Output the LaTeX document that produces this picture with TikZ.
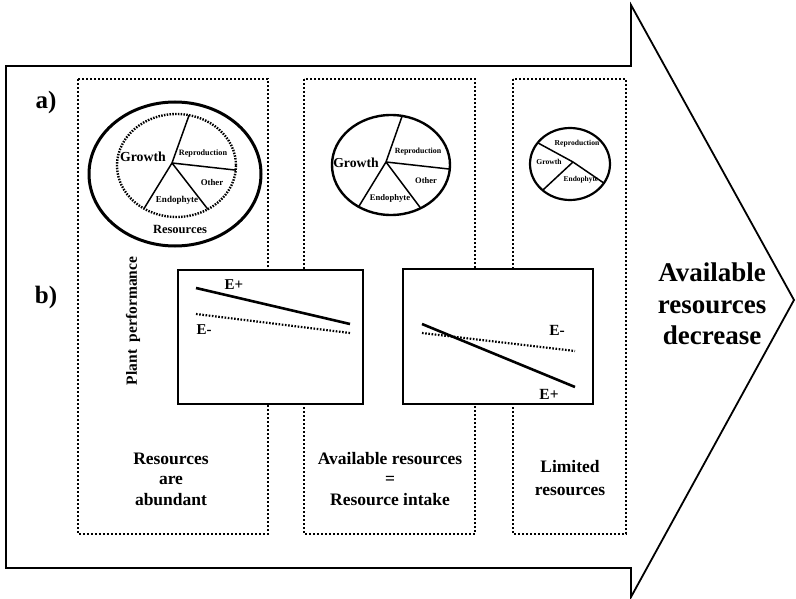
\documentclass[tikz,border=0pt]{standalone}
\usepackage{fontspec}
\setmainfont{Liberation Serif}
\begin{document}
\begin{tikzpicture}[x=1pt,y=-1pt,
  lbl/.style={font=\bfseries, inner sep=0pt, align=center},
  region/.style={line width=1.9pt, dash pattern=on 2pt off 2pt},
  bigarrow/.style={line width=1.8pt, line join=miter},
  plotbox/.style={line width=2pt, fill=white},
  eplus/.style={line width=2.6pt},
  eminus/.style={line width=2.2pt, dash pattern=on 1.6pt off 1.6pt},
  spoke/.style={line width=1.5pt},
  rim/.style={line width=2.4pt},
  fs/.style={font=\bfseries\fontsize{#1}{#1}\selectfont}
]
\useasboundingbox (0,0) rectangle (796,599);

% large arrow pointing to the right
\draw[bigarrow] (6,66) -- (631,66) -- (631,5) -- (794,300) -- (631,597)
  -- (631,568) -- (6,568) -- cycle;

% three dotted regions
\draw[region] (78,79) rectangle (268,534);
\draw[region] (304,79) rectangle (475,534);
\draw[region] (513,79) rectangle (626,534);

% row labels
\node[lbl, fs=25] (la) at (46,102) {a)};
\node[lbl, fs=25] (lb) at (46,297) {b)};

% ---- pie 1: abundant resources ----
\draw[line width=3pt] (175,174) ellipse [x radius=86, y radius=72];
\draw[line width=2.4pt, dash pattern=on 1.5pt off 1.3pt] (176.5,165.5) ellipse [x radius=59.5, y radius=51.5];
\coordinate (h1) at (172,163);
\coordinate (h1a) at (189.1,115.2);
\coordinate (h1b) at (235.8,170.1);
\coordinate (h1c) at (207.9,209.3);
\coordinate (h1d) at (144.0,208.6);
\foreach \e in {h1a,h1b,h1c,h1d} \draw[spoke] (h1) -- (\e);
\node[lbl, fs=13.8] (g1) at (143,157) {Growth};
\node[lbl, fs=8.2] (r1) at (203,154) {Reproduction};
\node[lbl, fs=8.8] (o1) at (212,182) {Other};
\node[lbl, fs=9] (d1) at (177,200) {Endophyte};
\node[lbl, fs=12.5] (res1) at (180,229) {Resources};

% ---- pie 2: intermediate resources ----
\draw[rim] (391,165) ellipse [x radius=59, y radius=50];
\coordinate (h2) at (386,162);
\coordinate (h2a) at (402.2,115.9);
\coordinate (h2b) at (449.8,169.1);
\coordinate (h2c) at (420.7,208.2);
\coordinate (h2d) at (358.6,206.8);
\foreach \e in {h2a,h2b,h2c,h2d} \draw[spoke] (h2) -- (\e);
\node[lbl, fs=13.7] (g2) at (356,163) {Growth};
\node[lbl, fs=7.9] (r2) at (418,152) {Reproduction};
\node[lbl, fs=8.5] (o2) at (426,181) {Other};
\node[lbl, fs=8.6] (d2) at (390,198) {Endophyte};

% ---- pie 3: limited resources ----
\draw[line width=2.2pt] (570,164) ellipse [x radius=40, y radius=36];
\coordinate (h3) at (573,162);
\coordinate (h3a) at (537.7,142.8);
\coordinate (h3b) at (603.9,183.1);
\coordinate (h3c) at (542.6,190.3);
\draw[spoke] (h3a) -- (h3) -- (h3b);
\draw[spoke] (h3) -- (h3c);
\node[lbl, fs=7.6] (g3) at (549,162) {Growth};
\node[lbl, fs=7.6] (r3) at (577,144) {Reproduction};
\node[lbl, fs=7.4] (d3) at (581,180) {Endophyte};

% ---- performance plots ----
\node[lbl, fs=15.5, rotate=90] (pp) at (133,321) {Plant\ \ performance};

\draw[plotbox] (178,270) rectangle (363,404);
\coordinate (p1a) at (196,288);
\coordinate (p1b) at (350,324);
\coordinate (m1a) at (196,314);
\coordinate (m1b) at (350,333);
\draw[eplus] (p1a) -- (p1b);
\draw[eminus] (m1a) -- (m1b);
\node[lbl, fs=15] (ep1) at (234,285) {E+};
\node[lbl, fs=15] (em1) at (204,330) {E-};

\draw[plotbox] (403,269) rectangle (593,404);
\coordinate (p2a) at (422,324);
\coordinate (p2b) at (575,387);
\coordinate (m2a) at (422,333);
\coordinate (m2b) at (575,351);
\draw[eplus] (p2a) -- (p2b);
\draw[eminus] (m2a) -- (m2b);
\node[lbl, fs=15.5] (em2) at (557,330) {E-};
\node[lbl, fs=15.5] (ep2) at (549,394) {E+};

% ---- captions ----
\node[lbl, font=\bfseries\fontsize{17.5}{20.5}\selectfont] (c1) at (171,479) {Resources\\are\\abundant};
\node[lbl, font=\bfseries\fontsize{17.5}{20.5}\selectfont] (c2) at (390,479) {Available resources\\=\\Resource intake};
\node[lbl, font=\bfseries\fontsize{17.5}{23}\selectfont] (c3) at (570,478) {Limited\\resources};

\node[lbl, font=\bfseries\fontsize{27}{31.5}\selectfont] (dec) at (712,304) {Available\\resources\\decrease};
\end{tikzpicture}
\end{document}
